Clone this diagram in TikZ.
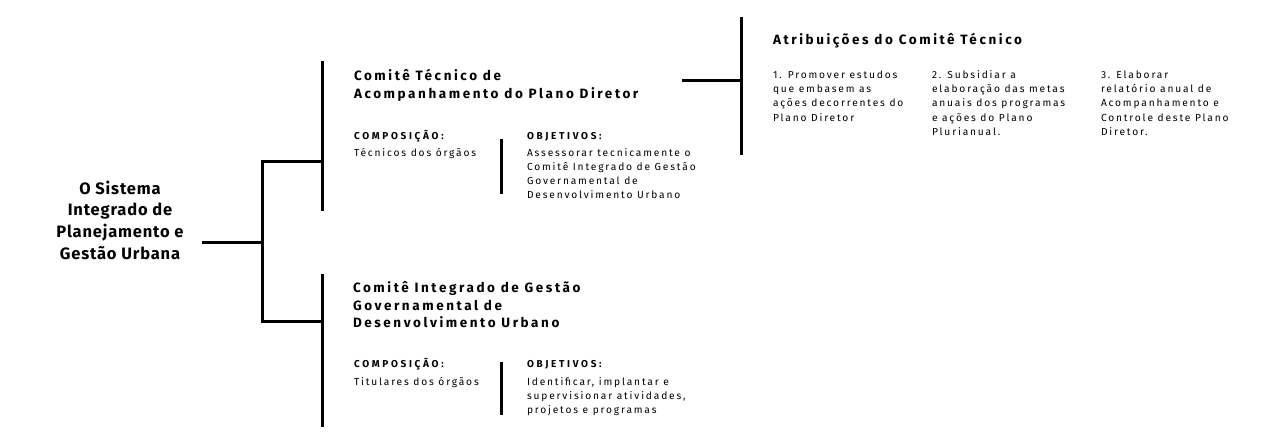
\documentclass[tikz,border=0pt]{standalone}
\usepackage{fontspec}
\setmainfont{Fira Sans}
\newfontfamily\bigfont[LetterSpace=5]{Fira Sans}
\newfontfamily\titlefont[LetterSpace=19]{Fira Sans}
\newfontfamily\labelfont[LetterSpace=27]{Fira Sans}
\newfontfamily\bodyfont[LetterSpace=18]{Fira Sans}
\newcommand\stackL[2]{\vtop{\baselineskip=#1\lineskiplimit=-1000pt\halign{##\hfil\cr#2\crcr}}}
\newcommand\stackC[2]{\vtop{\baselineskip=#1\lineskiplimit=-1000pt\halign{\hfil##\hfil\cr#2\crcr}}}
\newcommand\bodysize{\bodyfont\fontsize{10.2}{14.4}\selectfont}
\newcommand\labelsize{\labelfont\fontsize{10}{14}\selectfont\bfseries}
\newcommand\titlesize{\titlefont\fontsize{13.5}{17.5}\selectfont\bfseries}
\tikzset{
  txt/.style={inner sep=0pt, outer sep=0pt, anchor=base west},
  bar/.style={line width=3pt, line cap=butt, line join=miter},
}
\begin{document}
\begin{tikzpicture}[x=1pt,y=-1pt]
\useasboundingbox (0,0) rectangle (1282,444);
% root text
\node[inner sep=0pt, anchor=base] (root) at (120,194)
  {\bigfont\fontsize{16.5}{21.7}\selectfont\bfseries\stackC{21.7pt}{O Sistema\cr Integrado de\cr Planejamento e\cr Gestão Urbana}};
% coordinates for connectors
\coordinate (rootE) at (202,242);
\coordinate (forkM) at (262,242);
\coordinate (forkT) at (262,161);
\coordinate (forkB) at (262,321);
\coordinate (barTt) at (322,61);
\coordinate (barTm) at (322,161);
\coordinate (barTb) at (322,211);
\coordinate (barBt) at (322,274);
\coordinate (barBm) at (322,321);
\coordinate (barBb) at (322,427);
\coordinate (linkW) at (682,80);
\coordinate (linkE) at (741,80);
\coordinate (atrT) at (741,17);
\coordinate (atrB) at (741,155);
\coordinate (sepTt) at (501.5,139);
\coordinate (sepTb) at (501.5,193.5);
\coordinate (sepBt) at (501.5,361.5);
\coordinate (sepBb) at (501.5,415);
% connectors
\draw[bar] (rootE) -- (forkM);
\draw[bar] (barTm) -- (forkT) -- (forkB) -- (barBm);
\draw[bar] (barTt) -- (barTb);
\draw[bar] (barBt) -- (barBb);
\draw[bar] (linkW) -- (linkE);
\draw[bar] (atrT) -- (atrB);
\draw[bar] (sepTt) -- (sepTb);
\draw[bar] (sepBt) -- (sepBb);
% top committee
\node[txt] (t1title) at (354,81)
  {\titlesize\stackL{17.5pt}{Comitê Técnico de\cr Acompanhamento do Plano Diretor}};
\node[txt] (t1comp) at (354,139)
  {\labelsize COMPOSIÇÃO:};
\node[txt] (t1compt) at (354,156)
  {\bodysize Técnicos dos órgãos};
\node[txt] (t1obj) at (527,139)
  {\labelsize OBJETIVOS:};
\node[txt] (t1objt) at (527,156)
  {\bodysize\stackL{14pt}{Assessorar tecnicamente o\cr Comitê Integrado de Gestão\cr Governamental de\cr Desenvolvimento Urbano}};
% bottom committee
\node[txt] (t2title) at (353,292.5)
  {\titlesize\stackL{17.5pt}{Comitê Integrado de Gestão\cr Governamental de\cr Desenvolvimento Urbano}};
\node[txt] (t2comp) at (354,367)
  {\labelsize COMPOSIÇÃO:};
\node[txt] (t2compt) at (354,385)
  {\bodysize Titulares dos órgãos};
\node[txt] (t2obj) at (527,367)
  {\labelsize OBJETIVOS:};
\node[txt] (t2objt) at (527,385)
  {\bodysize\stackL{14.4pt}{Identificar, implantar e\cr supervisionar atividades,\cr projetos e programas}};
% attributions
\node[txt] (atr) at (773,44.5)
  {\titlesize Atribuições do Comitê Técnico};
\node[txt] (atr1) at (773,78)
  {\bodysize\stackL{14.4pt}{1. Promover estudos\cr que embasem as\cr ações decorrentes do\cr Plano Diretor}};
\node[txt] (atr2) at (932,78)
  {\bodysize\stackL{14.4pt}{2. Subsidiar a\cr elaboração das metas\cr anuais dos programas\cr e ações do Plano\cr Plurianual.}};
\node[txt] (atr3) at (1101,78)
  {\bodysize\stackL{14.4pt}{3. Elaborar\cr relatório anual de\cr Acompanhamento e\cr Controle deste Plano\cr Diretor.}};
\end{tikzpicture}
\end{document}
